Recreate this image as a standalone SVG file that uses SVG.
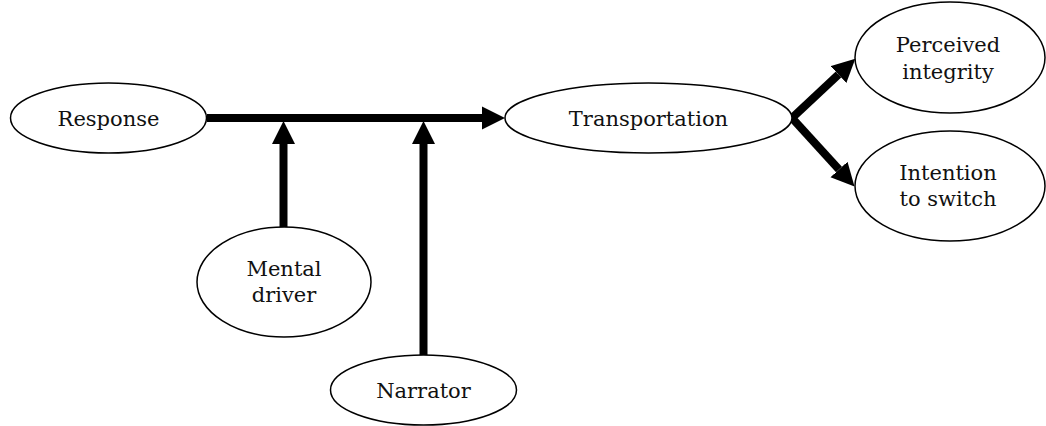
<svg xmlns="http://www.w3.org/2000/svg" width="1046" height="426" viewBox="0 0 1046 426">
<style>
.node ellipse{fill:#fff;stroke:#000;stroke-width:1.5}
.node text{font-family:"DejaVu Serif","Liberation Serif",serif;font-size:21px;fill:#111;text-anchor:middle}
.conn{stroke:#000;stroke-width:8;fill:none}
</style>
<defs>
<marker id="ah" markerUnits="userSpaceOnUse" markerWidth="23" markerHeight="24" refX="0" refY="11.5" orient="auto" viewBox="0 0 23 23">
<path d="M0,0 L23,11.5 L0,23 z" fill="#000"/>
</marker>
</defs>
<g id="connectors">
<path class="conn" d="M207,118 H482" marker-end="url(#ah)"/>
<path class="conn" d="M283.5,227 V144" marker-end="url(#ah)"/>
<path class="conn" d="M423.5,356 V144" marker-end="url(#ah)"/>
<path class="conn" d="M792,118 L838.5,74.5" marker-end="url(#ah)"/>
<path class="conn" d="M792,118 L839,169.5" marker-end="url(#ah)"/>
</g>
<g id="response" class="node"><ellipse cx="108.5" cy="118" rx="98" ry="35"/><text x="108.5" y="125.5">Response</text></g>
<g id="transportation" class="node"><ellipse cx="648.5" cy="118" rx="143.5" ry="35"/><text x="648.5" y="125.5">Transportation</text></g>
<g id="mental-driver" class="node"><ellipse cx="284" cy="282" rx="87" ry="55"/><text x="284" y="276">Mental</text><text x="284" y="302">driver</text></g>
<g id="narrator" class="node"><ellipse cx="423.5" cy="390" rx="93" ry="35"/><text x="423.5" y="397.5">Narrator</text></g>
<g id="perceived-integrity" class="node"><ellipse cx="950" cy="57.5" rx="95" ry="55.5"/><text x="948" y="52">Perceived</text><text x="948" y="79">integrity</text></g>
<g id="intention-to-switch" class="node"><ellipse cx="950" cy="186" rx="95" ry="55"/><text x="948" y="180">Intention</text><text x="948" y="206">to switch</text></g>
</svg>
